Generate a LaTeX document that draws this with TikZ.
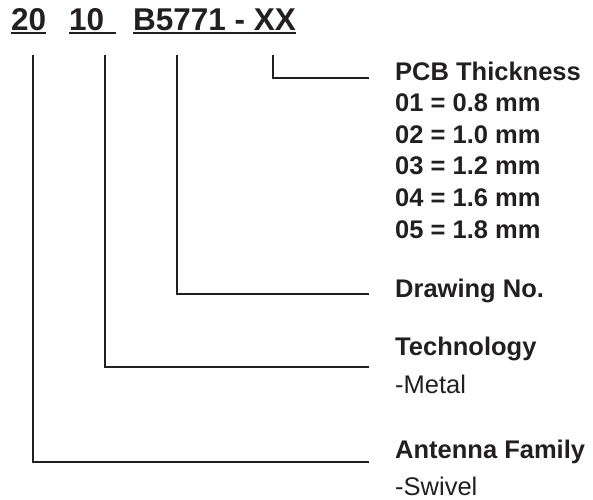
\documentclass[tikz,border=0pt]{standalone}
\usepackage{fontspec}
\setmainfont{Liberation Sans}
\usetikzlibrary{calc}
\definecolor{ink}{RGB}{35,31,32}

\begin{document}
\begin{tikzpicture}[x=1pt,y=-1pt]
	\tikzstyle{edge}=[draw,line width=1.8pt,-,ink]
	\tikzstyle{code}=[anchor=base west,inner sep=0pt,text=ink,font=\fontsize{31.5}{34}\selectfont\bfseries]
	\tikzstyle{title}=[anchor=base west,inner sep=0pt,text=ink,font=\fontsize{25.5}{28}\selectfont\bfseries]
	\tikzstyle{item}=[anchor=base west,inner sep=0pt,text=ink,font=\fontsize{25.5}{28}\selectfont]
	\useasboundingbox (0,0) rectangle (593,499);
	% part number
	\node[code] (n20) at (11,30) {20};
	\node[code] (n10) at (69,30) {10};
	\node[code] (nb) at (133,30) {B5771 - XX};
	\draw[edge] ([yshift=-3pt]n20.base west) -- ([yshift=-3pt]n20.base east);
	\draw[edge] ([yshift=-3pt]n10.base west) -- ([xshift=12pt,yshift=-3pt]n10.base east);
	\draw[edge] ([yshift=-3pt]nb.base west) -- ([yshift=-3pt]nb.base east);
	% labels
	\node[title] (thick) at (395,80) {PCB Thickness};
	\foreach \nr/\val [count=\i] in {01/0.8,02/1.0,03/1.2,04/1.6,05/1.8}
		\node[title] (t\nr) at (395,80+31.6*\i) {\nr{} = \val{} mm};
	\node[title] (drawno) at (395,297) {Drawing No.};
	\node[title] (tech) at (395,355) {Technology};
	\node[item] (metal) at (395,393) {-Metal};
	\node[title] (family) at (395,458) {Antenna Family};
	\node[item] (swivel) at (395,495) {-Swivel};
	% leaders
	\coordinate (sxx) at (273,55);
	\coordinate (sb) at (177,55);
	\coordinate (s10) at (105,55);
	\coordinate (s20) at (33,55);
	\coordinate (exx) at (369,78);
	\coordinate (eb) at (369,294);
	\coordinate (e10) at (369,367);
	\coordinate (e20) at (369,462);
	\draw[edge] (sxx) |- (exx);
	\draw[edge] (sb) |- (eb);
	\draw[edge] (s10) |- (e10);
	\draw[edge] (s20) |- (e20);
\end{tikzpicture}
\end{document}
